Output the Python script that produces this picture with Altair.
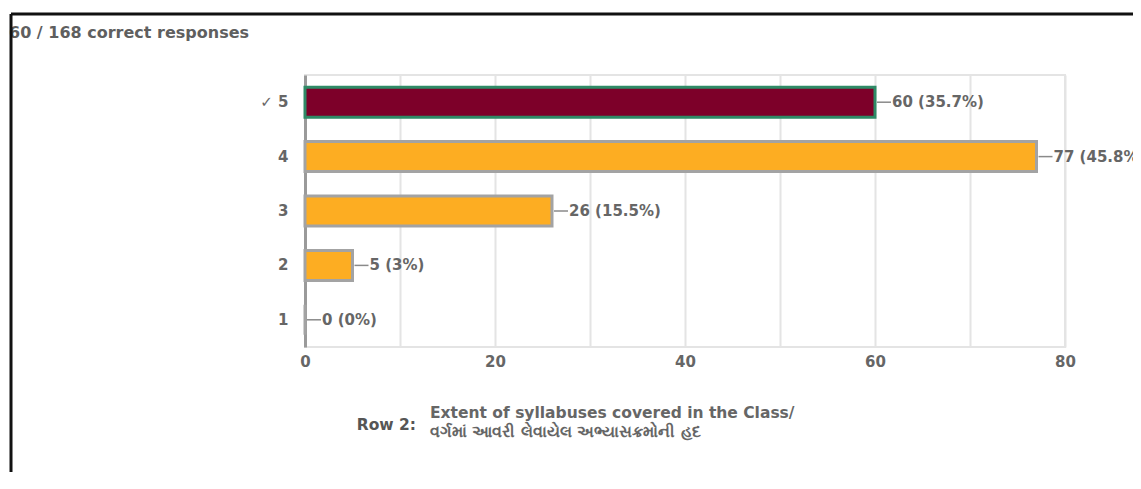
import altair as alt
import pandas as pd

# ---- data ----
categories = ["5", "4", "3", "2", "1"]
counts = [60, 77, 26, 5, 0]
value_labels = ["60 (35.7%)", "77 (45.8%)", "26 (15.5%)", "5 (3%)", "0 (0%)"]
is_correct = [True, False, False, False, False]

title_text = "60 / 168 correct responses"
row_label = "Row 2:"
row_line1 = "Extent of syllabuses covered in the Class/"
row_line2 = "વર્ગમાં આવરી લેવાયેલ અભ્યાસક્રમોની હદ"

df = pd.DataFrame({"cat": categories, "count": counts,
                   "label": value_labels, "correct": is_correct})

FONT = "DejaVu Sans"
TXT = "#666666"

x_enc = alt.X("count:Q",
              scale=alt.Scale(domain=[0, 80], nice=False),
              axis=alt.Axis(values=list(range(0, 81, 10)),
                            labelExpr="datum.value % 20 == 0 ? datum.label : ''",
                            title=None, grid=True, gridColor="#e4e4e4", gridWidth=2,
                            domain=False, ticks=False, labelPadding=7, labelFlush=False,
                            labelFont=FONT, labelFontSize=15, labelFontWeight="bold",
                            labelColor=TXT))
y_enc = alt.Y("cat:N", sort=categories,
              axis=alt.Axis(title=None, ticks=False, domainColor="#9a9a9a", domainWidth=3,
                            labelPadding=17, labelFont=FONT, labelFontSize=15,
                            labelFontWeight="bold", labelColor=TXT,
                            labelExpr="datum.value == '5' ? '✓ 5' : datum.label"))

base = alt.Chart(df)

bars = base.mark_bar(size=30, strokeWidth=3).encode(
    x=x_enc, y=y_enc,
    fill=alt.condition("datum.correct", alt.value("#7d0029"), alt.value("#fdad22")),
    stroke=alt.condition("datum.correct", alt.value("#2e8a66"), alt.value("#a3a3a3")),
)

leaders = base.mark_rule(xOffset=2, x2Offset=16, color="#8a8a8a", strokeWidth=1.5).encode(
    x="count:Q", x2="count:Q", y=alt.Y("cat:N", sort=categories)
)

texts = base.mark_text(dx=17, align="left", baseline="middle", font=FONT,
                       fontSize=15, fontWeight="bold", color=TXT).encode(
    x="count:Q", y=alt.Y("cat:N", sort=categories), text="label:N"
)

one = pd.DataFrame({"t": [title_text]})
title = alt.Chart(one).mark_text(align="left", baseline="middle", font=FONT,
                                 fontSize=16, fontWeight="bold", color="#5f5f5f").encode(
    x=alt.value(-296), y=alt.value(-42), text="t:N")

rowlab = alt.Chart(pd.DataFrame({"t": [row_label]})).mark_text(
    align="right", baseline="middle", font=FONT, fontSize=15.5, fontWeight="bold",
    color="#555555").encode(x=alt.value(111), y=alt.value(350), text="t:N")

line1 = alt.Chart(pd.DataFrame({"t": [row_line1]})).mark_text(
    align="left", baseline="middle", font=FONT, fontSize=15.5,
    fontWeight="bold", color="#666666").encode(
    x=alt.value(125), y=alt.value(338), text="t:N")
line2 = alt.Chart(pd.DataFrame({"t": [row_line2]})).mark_text(
    align="left", baseline="middle", font=FONT, fontSize=15.5,
    fontWeight="bold", color="#666666").encode(
    x=alt.value(125), y=alt.value(357), text="t:N")

frame_top = alt.Chart(one).mark_rule(color="#111111", strokeWidth=3).encode(
    x=alt.value(-294), x2=alt.value(1000), y=alt.value(-61))
frame_left = alt.Chart(one).mark_rule(color="#111111", strokeWidth=3).encode(
    x=alt.value(-294), y=alt.value(-61), y2=alt.value(600))

chart = alt.layer(bars, leaders, texts, title, rowlab, line1, line2,
                  frame_top, frame_left).properties(
    width=760, height=272, autosize="none",
    padding={"left": 297, "top": 67, "right": 68, "bottom": 125},
).configure_view(stroke="#e4e4e4", strokeWidth=2)

chart.save("out.html", embed_options={"renderer": "svg", "actions": False})
